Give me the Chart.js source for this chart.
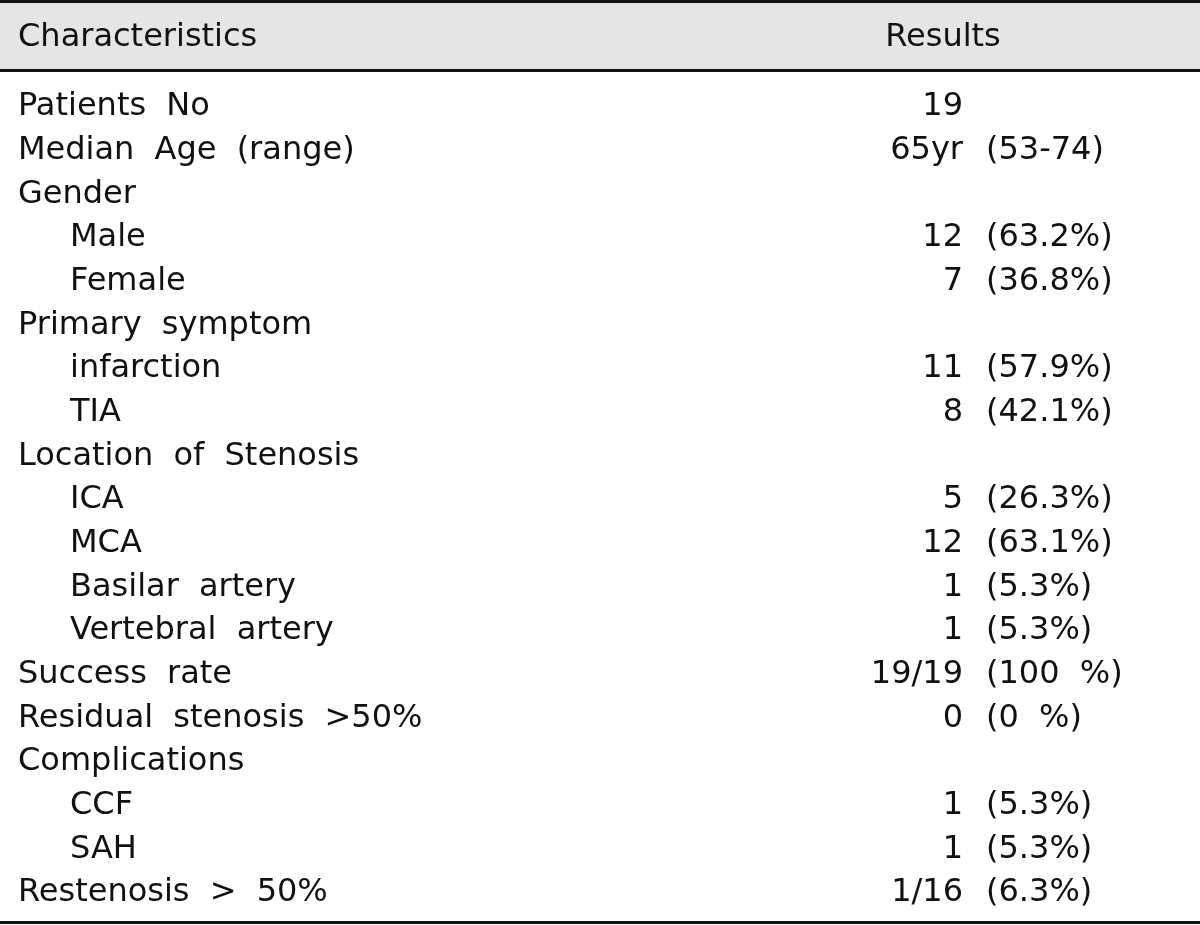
<!DOCTYPE html>
<html>
<head>
<meta charset="utf-8">
<script src="https://cdn.jsdelivr.net/npm/chart.js@4.4.1/dist/chart.umd.min.js"></script>
<style>
  html, body { margin: 0; padding: 0; background: #fff; }
  #wrap { width: 1200px; height: 925px; position: relative; }
</style>
</head>
<body>
<div id="wrap"><canvas id="myChart"></canvas></div>
<script>
const headers = ['Characteristics', 'Results'];

const characteristics = [
  'Patients No', 'Median Age (range)', 'Gender', 'Male', 'Female',
  'Primary symptom', 'infarction', 'TIA', 'Location of Stenosis',
  'ICA', 'MCA', 'Basilar artery', 'Vertebral artery', 'Success rate',
  'Residual stenosis >50%', 'Complications', 'CCF', 'SAH', 'Restenosis > 50%'
];

const indented = [0, 0, 0, 1, 1, 0, 1, 1, 0, 1, 1, 1, 1, 0, 0, 0, 1, 1, 0];

const resultCount = [
  '19', '65yr', '', '12', '7', '', '11', '8', '', '5', '12', '1', '1',
  '19/19', '0', '', '1', '1', '1/16'
];

const resultPercent = [
  '', '(53-74)', '', '(63.2%)', '(36.8%)', '', '(57.9%)', '(42.1%)', '',
  '(26.3%)', '(63.1%)', '(5.3%)', '(5.3%)', '(100 %)', '(0 %)', '',
  '(5.3%)', '(5.3%)', '(6.3%)'
];

const FONT = '"DejaVu Sans", sans-serif';

document.addEventListener("DOMContentLoaded", function () {
  const ctx = document.getElementById('myChart');

  const tablePlugin = {
    id: 'tableText',
    afterDatasetsDraw(chart) {
      const c = chart.ctx;
      const x = chart.scales.x;
      c.save();

      // header band + rules
      c.fillStyle = '#e5e5e5';
      c.fillRect(0, 2, chart.width, 68);
      c.fillStyle = '#111';
      c.fillRect(0, 0, chart.width, 3);
      c.fillRect(0, 69, chart.width, 3);
      c.fillRect(0, chart.height - 4, chart.width, 3);

      c.font = '32px ' + FONT;
      c.fillStyle = '#111';
      c.textBaseline = 'middle';
      c.wordSpacing = '10px';
      c.textAlign = 'left';
      c.fillText(headers[0], x.getPixelForValue(18), 38);
      c.textAlign = 'center';
      c.fillText(headers[1], x.getPixelForValue(943), 38);

      const meta = chart.getDatasetMeta(0);
      meta.data.forEach((pt, i) => {
        const y = pt.y;
        c.textAlign = 'left';
        c.fillText(characteristics[i], x.getPixelForValue(indented[i] ? 70 : 18), y);
        c.textAlign = 'right';
        c.fillText(resultCount[i], pt.x, y);
        c.textAlign = 'left';
        c.fillText(resultPercent[i], pt.x + 23, y);
      });
      c.restore();
    }
  };

  new Chart(ctx, {
    type: 'scatter',
    data: {
      labels: characteristics,
      datasets: [{
        data: characteristics.map((name, i) => ({ x: 963, y: name })),
        pointRadius: 0,
        pointHoverRadius: 0
      }]
    },
    options: {
      responsive: true,
      maintainAspectRatio: false,
      animation: false,
      events: [],
      layout: { padding: { top: 85, bottom: 10, left: 0, right: 0 } },
      scales: {
        x: { type: 'linear', min: 0, max: 1200, display: false },
        y: { type: 'category', labels: characteristics, offset: true, display: false }
      },
      plugins: {
        legend: { display: false },
        tooltip: { enabled: false }
      }
    },
    plugins: [tablePlugin]
  });
});
</script>
</body>
</html>
